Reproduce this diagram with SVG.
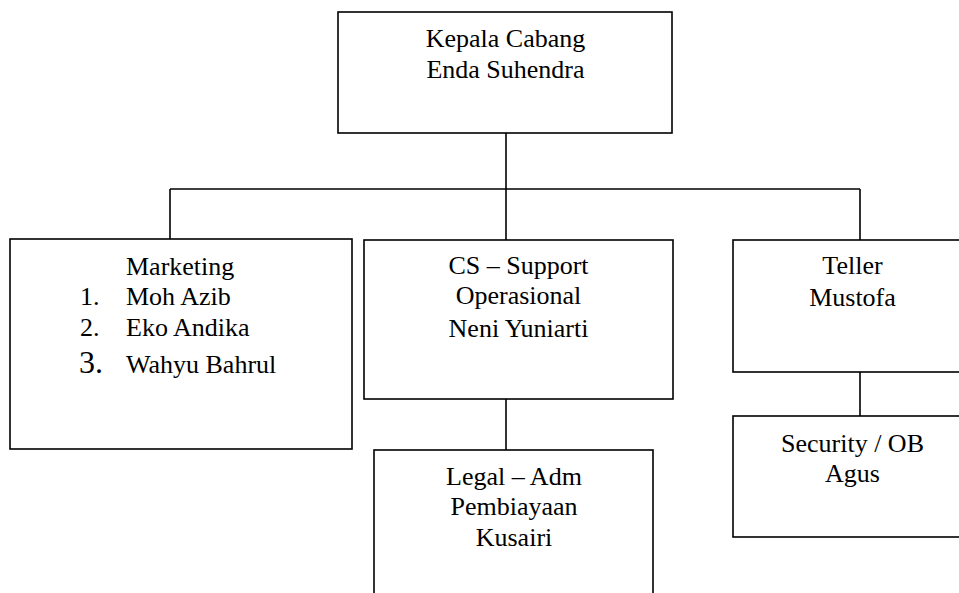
<svg xmlns="http://www.w3.org/2000/svg" width="959" height="593" viewBox="0 0 959 593" font-family="'Liberation Serif', serif" font-size="26">
<style>
.box{fill:#fff;stroke:#000;stroke-width:1.6}
.ln{fill:none;stroke:#000;stroke-width:1.6}
text{font-family:'Liberation Serif',serif;font-size:26px;fill:#000}
.c{text-anchor:middle}
</style>
<rect width="959" height="593" fill="#fff"/>
<g id="connectors">
<path class="ln" d="M506 133V189M170 189H860M170 189V239M506 189V240M860 189V240M506 399V450M860 372V416"/>
</g>
<g id="kepala">
<rect class="box" x="338" y="12" width="334" height="121"/>
<text class="c" x="505.5" y="47">Kepala Cabang</text>
<text class="c" x="505.5" y="78">Enda Suhendra</text>
</g>
<g id="marketing">
<rect class="box" x="10" y="239" width="342" height="210"/>
<text x="126" y="275">Marketing</text>
<text x="80" y="305">1.</text><text x="126" y="305">Moh Azib</text>
<text x="80" y="336">2.</text><text x="126" y="336">Eko Andika</text>
<text x="79" y="373" style="font-size:32px">3.</text><text x="126" y="373">Wahyu Bahrul</text>
</g>
<g id="cs">
<rect class="box" x="364" y="240" width="309" height="159"/>
<text class="c" x="518.5" y="274">CS – Support</text>
<text class="c" x="518.5" y="304">Operasional</text>
<text class="c" x="518.5" y="337">Neni Yuniarti</text>
</g>
<g id="legal">
<rect class="box" x="374" y="450" width="279" height="160"/>
<text class="c" x="514" y="485">Legal – Adm</text>
<text class="c" x="514" y="515">Pembiayaan</text>
<text class="c" x="514" y="546">Kusairi</text>
</g>
<g id="teller">
<rect class="box" x="733" y="240" width="240" height="132"/>
<text class="c" x="852.5" y="274">Teller</text>
<text class="c" x="852.5" y="306">Mustofa</text>
</g>
<g id="security">
<rect class="box" x="733" y="416" width="240" height="121"/>
<text class="c" x="852.5" y="452">Security / OB</text>
<text class="c" x="852.5" y="482">Agus</text>
</g>
</svg>
